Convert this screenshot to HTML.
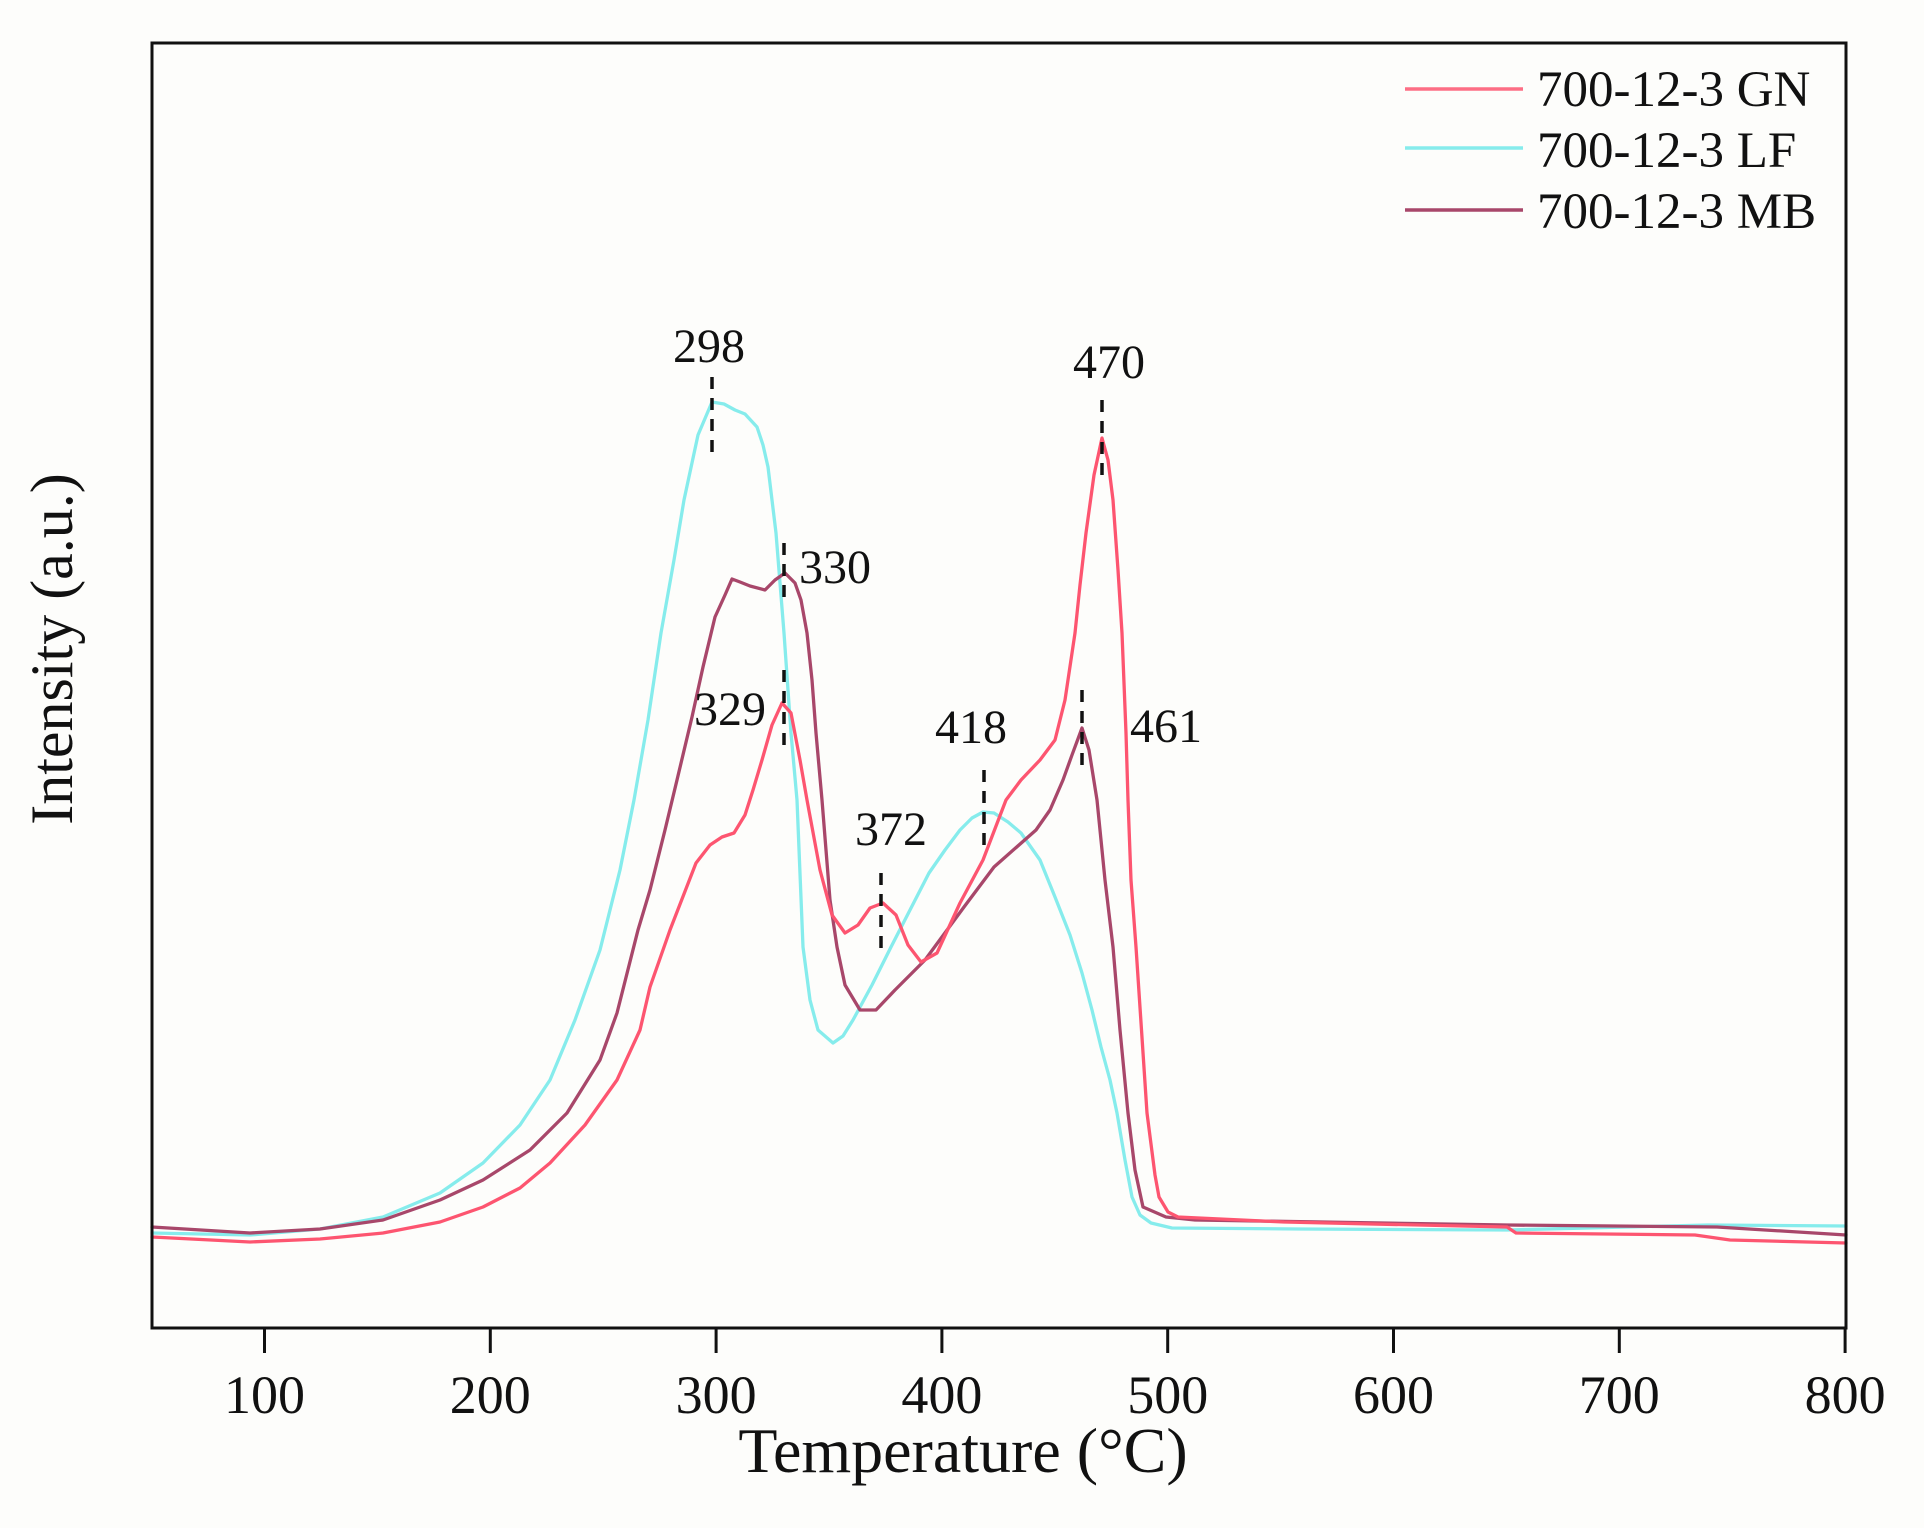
<!DOCTYPE html>
<html><head><meta charset="utf-8"><style>
html,body{margin:0;padding:0;background:#fdfdfb;}
svg{display:block;}
text{font-family:"Liberation Serif",serif;fill:#111;}
</style></head><body>
<svg width="1924" height="1528" viewBox="0 0 1924 1528" xmlns="http://www.w3.org/2000/svg">
<rect width="1924" height="1528" fill="#fdfdfb"/>
<g fill="none" stroke-linejoin="round" stroke-linecap="round" stroke-width="3.3">
<polyline stroke="#86ecec" points="152,1233 250,1235 320,1229 383,1217 440,1193 483,1163 520,1125 550,1080 575,1020 600,950 620,870 634,800 648,720 661,633 674,560 684,500 698,435 712,402 724,404 735,410 745,414 757,427 763,445 768,467 776,533 784,633 791,733 797,800 803,947 810,1000 818,1030 833,1043 843,1036 853,1020 872,985 891,947 910,910 929,873 945,850 960,830 972,818 983,812 994,813 1008,822 1021,833 1040,860 1055,897 1070,935 1082,973 1092,1010 1101,1047 1110,1080 1117,1113 1125,1160 1132,1197 1140,1215 1151,1223 1172,1228 1300,1229 1507,1230 1708,1225 1846,1226"/>
<polyline stroke="#a8476a" points="152,1227 250,1233 320,1229 383,1220 440,1200 483,1180 530,1150 567,1113 600,1060 617,1013 638,930 650,890 665,830 677,780 692,717 703,667 715,617 725,595 732,579 740,582 750,586 765,590 775,580 785,573 795,583 801,600 807,633 812,680 816,733 822,800 830,900 837,947 845,985 860,1010 876,1010 895,990 925,960 964,907 994,867 1036,830 1050,810 1063,780 1072,755 1082,728 1089,750 1097,800 1105,880 1113,947 1120,1030 1128,1113 1135,1170 1143,1207 1166,1217 1195,1220 1507,1225 1717,1227 1846,1235"/>
<polyline stroke="#fd5570" points="152,1237 250,1242 320,1239 383,1233 440,1222 483,1207 520,1188 550,1163 585,1125 617,1080 640,1030 650,987 670,930 696,863 710,845 722,837 734,833 745,815 753,790 762,760 772,725 782,703 791,713 800,760 807,800 820,870 832,915 845,933 858,925 870,908 883,903 896,915 908,945 921,962 937,953 960,903 983,860 1006,800 1021,780 1040,760 1055,740 1065,700 1075,633 1080,585 1086,533 1094,475 1102,438 1108,460 1113,500 1118,570 1122,633 1126,733 1128,800 1131,880 1136,947 1147,1113 1155,1175 1159,1197 1168,1212 1178,1217 1284,1222 1507,1227 1516,1233 1695,1235 1730,1240 1846,1243"/>
</g>
<g stroke="#111" stroke-width="3.5" stroke-dasharray="12,9" fill="none">
<line x1="712" y1="377" x2="712" y2="452"/>
<line x1="784" y1="543" x2="784" y2="602"/>
<line x1="784" y1="670" x2="784" y2="745"/>
<line x1="1102" y1="400" x2="1102" y2="475"/>
<line x1="1082" y1="690" x2="1082" y2="765"/>
<line x1="984" y1="770" x2="984" y2="848"/>
<line x1="881" y1="873" x2="881" y2="948"/>
</g>
<g font-size="48">
<text x="709" y="362" text-anchor="middle">298</text>
<text x="1109" y="378" text-anchor="middle">470</text>
<text x="799" y="583">330</text>
<text x="766" y="725" text-anchor="end">329</text>
<text x="971" y="743" text-anchor="middle">418</text>
<text x="1130" y="742">461</text>
<text x="891" y="845" text-anchor="middle">372</text>
</g>
<g stroke-width="3.5">
<line x1="1405" y1="89" x2="1523" y2="89" stroke="#fd6e85"/>
<line x1="1405" y1="148" x2="1523" y2="148" stroke="#86ecec"/>
<line x1="1405" y1="210" x2="1523" y2="210" stroke="#a8476a"/>
</g>
<g font-size="51">
<text x="1537" y="106">700-12-3 GN</text>
<text x="1537" y="167">700-12-3 LF</text>
<text x="1537" y="228">700-12-3 MB</text>
</g>
<rect x="152" y="43" width="1694" height="1285" fill="none" stroke="#111" stroke-width="3"/>
<g stroke="#111" stroke-width="3">
<line x1="264.5" y1="1328" x2="264.5" y2="1353"/>
<line x1="490.3" y1="1328" x2="490.3" y2="1353"/>
<line x1="716.1" y1="1328" x2="716.1" y2="1353"/>
<line x1="941.9" y1="1328" x2="941.9" y2="1353"/>
<line x1="1167.7" y1="1328" x2="1167.7" y2="1353"/>
<line x1="1393.5" y1="1328" x2="1393.5" y2="1353"/>
<line x1="1619.3" y1="1328" x2="1619.3" y2="1353"/>
<line x1="1845.1" y1="1328" x2="1845.1" y2="1353"/>
</g>
<g font-size="54" text-anchor="middle">
<text x="264.5" y="1413">100</text>
<text x="490.3" y="1413">200</text>
<text x="716.1" y="1413">300</text>
<text x="941.9" y="1413">400</text>
<text x="1167.7" y="1413">500</text>
<text x="1393.5" y="1413">600</text>
<text x="1619.3" y="1413">700</text>
<text x="1845.1" y="1413">800</text>
</g>
<text x="963" y="1472" font-size="64" text-anchor="middle">Temperature (°C)</text>
<text x="0" y="0" font-size="60" text-anchor="middle" transform="translate(72,649) rotate(-90)">Intensity (a.u.)</text>
</svg>
</body></html>
